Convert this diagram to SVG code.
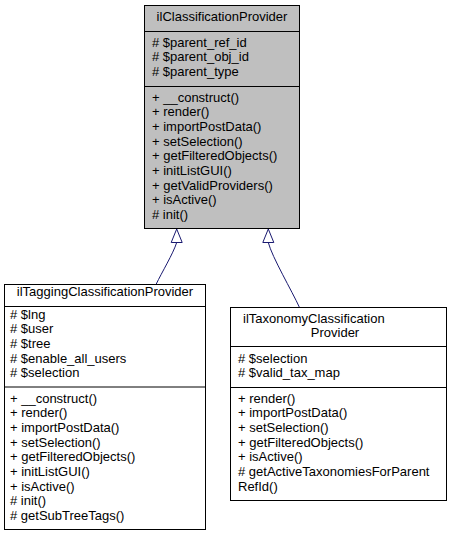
<svg xmlns="http://www.w3.org/2000/svg" width="453" height="536" viewBox="0 0 453 536">
<style>
text{font-family:"Liberation Sans",Arial,Helvetica,sans-serif;font-size:13px;fill:#000}
.c{text-anchor:middle}
.box{stroke:#000;stroke-width:1}
.sep{stroke:#000;stroke-width:1}
.edge{fill:none;stroke:#191970;stroke-width:1}
.head{fill:#fff;stroke:#191970;stroke-width:1}
</style>
<rect width="453" height="536" fill="#fff"/>
<g id="connectors">
<path class="edge" d="M156,284.5 C162,272 173,254 176.7,242.5"/>
<polygon class="head" points="176.7,229 171.2,242.5 182.2,242.5"/>
<path class="edge" d="M299.5,307.5 C292,291 272,257 268.3,242.5"/>
<polygon class="head" points="268.3,229 262.8,242.5 273.8,242.5"/>
</g>
<g id="ilClassificationProvider">
<rect class="box" x="144.5" y="5.5" width="155" height="223" fill="#bfbfbf"/>
<text class="c" x="222" y="21">ilClassificationProvider</text>
<line class="sep" x1="144.5" y1="31.5" x2="299.5" y2="31.5"/>
<text x="152" y="46.5"># $parent_ref_id</text>
<text x="152" y="61.2"># $parent_obj_id</text>
<text x="152" y="75.8"># $parent_type</text>
<line class="sep" x1="144.5" y1="86.5" x2="299.5" y2="86.5"/>
<text x="152" y="101.5">+ __construct()</text>
<text x="152" y="116.2">+ render()</text>
<text x="152" y="130.8">+ importPostData()</text>
<text x="152" y="145.5">+ setSelection()</text>
<text x="152" y="160.2">+ getFilteredObjects()</text>
<text x="152" y="174.8">+ initListGUI()</text>
<text x="152" y="189.5">+ getValidProviders()</text>
<text x="152" y="204.2">+ isActive()</text>
<text x="152" y="218.8"># init()</text>
</g>
<g id="ilTaggingClassificationProvider">
<rect class="box" x="4.5" y="284.5" width="201" height="245" fill="#fff"/>
<text class="c" x="105" y="296">ilTaggingClassificationProvider</text>
<line class="sep" x1="4.5" y1="306.5" x2="205.5" y2="306.5"/>
<text x="10" y="318.5"># $lng</text>
<text x="10" y="333.2"># $user</text>
<text x="10" y="347.8"># $tree</text>
<text x="10" y="362.5"># $enable_all_users</text>
<text x="10" y="377.2"># $selection</text>
<line class="sep" x1="4.5" y1="387" x2="205.5" y2="387"/>
<text x="10" y="402.5">+ __construct()</text>
<text x="10" y="417.2">+ render()</text>
<text x="10" y="431.8">+ importPostData()</text>
<text x="10" y="446.5">+ setSelection()</text>
<text x="10" y="461.2">+ getFilteredObjects()</text>
<text x="10" y="475.8">+ initListGUI()</text>
<text x="10" y="490.5">+ isActive()</text>
<text x="10" y="505.2"># init()</text>
<text x="10" y="519.8"># getSubTreeTags()</text>
</g>
<g id="ilTaxonomyClassificationProvider">
<rect class="box" x="230.5" y="307.5" width="216" height="193" fill="#fff"/>
<text x="243" y="322.5">ilTaxonomyClassification</text>
<text class="c" x="335" y="337">Provider</text>
<line class="sep" x1="230.5" y1="346.5" x2="446.5" y2="346.5"/>
<text x="238" y="362.5"># $selection</text>
<text x="238" y="377.2"># $valid_tax_map</text>
<line class="sep" x1="230.5" y1="387.5" x2="446.5" y2="387.5"/>
<text x="238" y="402.5">+ render()</text>
<text x="238" y="417.2">+ importPostData()</text>
<text x="238" y="431.8">+ setSelection()</text>
<text x="238" y="446.5">+ getFilteredObjects()</text>
<text x="238" y="461.2">+ isActive()</text>
<text x="238" y="475.8"># getActiveTaxonomiesForParent</text>
<text x="238" y="490.5">RefId()</text>
</g>
</svg>
